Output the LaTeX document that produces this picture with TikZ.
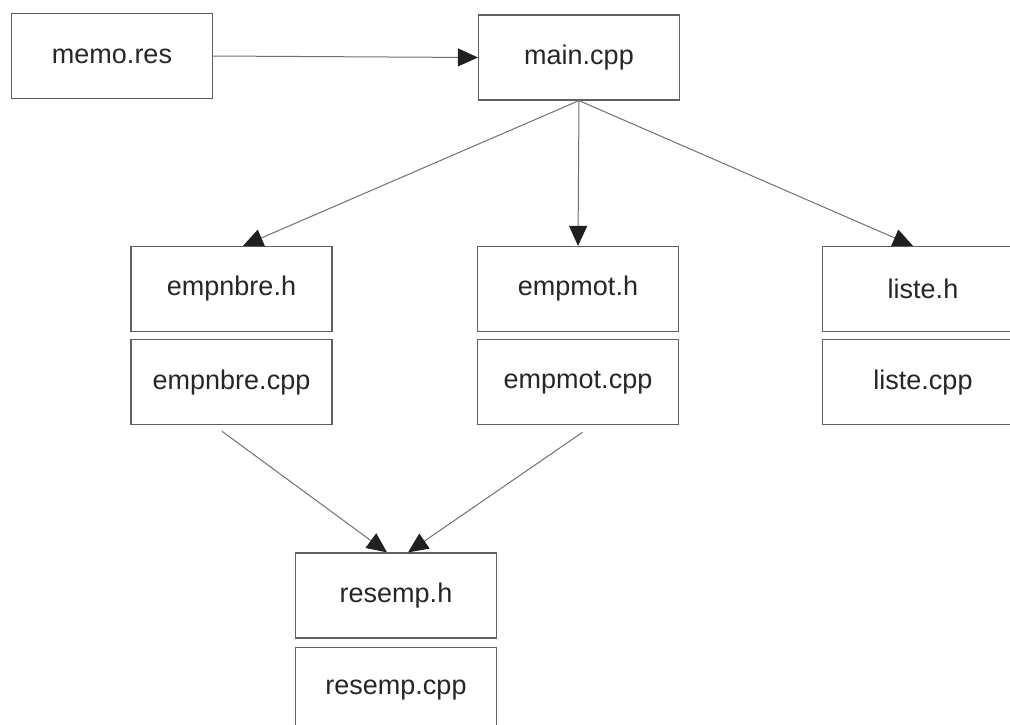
\documentclass[tikz,border=0pt]{standalone}
\usepackage{fontspec}
\setmainfont{Liberation Sans}
\usetikzlibrary{arrows.meta, positioning}
\definecolor{cline}{HTML}{707070}
\definecolor{cedge}{HTML}{606060}
\definecolor{ctip}{HTML}{202020}
\definecolor{ctext}{HTML}{262626}
\tikzset{
  every picture/.style={line width=1pt},
  file/.style={draw=cedge, line width=1.2pt, minimum width=201pt, minimum height=85pt,
    inner sep=0pt, text=ctext, font=\fontsize{27}{31}\selectfont},
  arrow/.style={-{Triangle[length=20pt, width=18pt, color=ctip]}, draw=cline, line width=1pt},
}

\begin{document}
\begin{tikzpicture}[x=1pt, y=1pt]
  \useasboundingbox (0,0) rectangle (1010,-724);
  \node[file] (memo) at (112,-56) {memo.res};
  \node[file] (main) at (579,-57.5) {main.cpp};
  \node[file] (nbreh) at (231.5,-289) {empnbre.h};
  \node[file, below=7pt of nbreh] (nbrecpp) {empnbre.cpp};
  \node[file] (moth) at (578,-289) {empmot.h};
  \node[file, below=7pt of moth] (motcpp) {empmot.cpp};
  \node[file] (listeh) at (923,-289) {liste.h};
  \node[file, below=7pt of listeh] (listecpp) {liste.cpp};
  \node[file] (resh) at (396,-595.5) {resemp.h};
  \node[file, below=8pt of resh] (rescpp) {resemp.cpp};
  \draw[arrow] (memo.east) -- (main.west);
  \draw[arrow] (main.south) -- ([xshift=11.5pt]nbreh.north);
  \draw[arrow] (main.south) -- (moth.north);
  \draw[arrow] (main.south) -- ([xshift=-10pt]listeh.north);
  \draw[arrow] ([xshift=-9.5pt, yshift=-6pt]nbrecpp.south) -- ([xshift=-9pt]resh.north);
  \draw[arrow] ([xshift=4.5pt, yshift=-7pt]motcpp.south) -- ([xshift=12pt]resh.north);
\end{tikzpicture}
\end{document}
